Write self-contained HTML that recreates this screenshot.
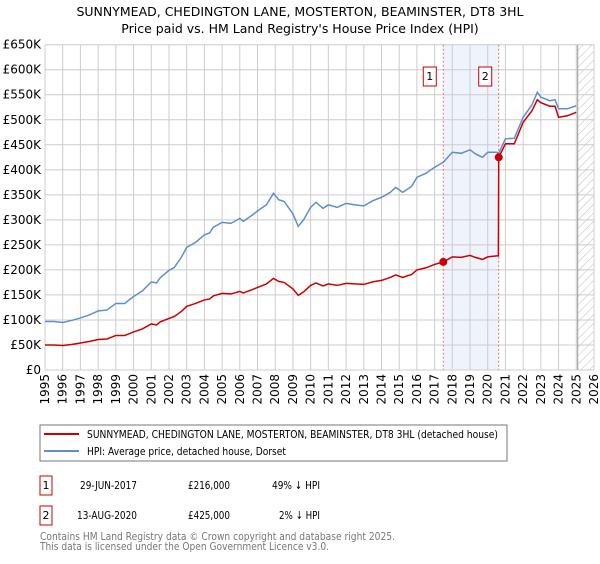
<!DOCTYPE html>
<html><head><meta charset="utf-8"><style>
body{margin:0;background:#fff;font-family:"DejaVu Sans","Liberation Sans",sans-serif;}
svg text{font-family:"DejaVu Sans","Liberation Sans",sans-serif;}
</style></head><body>
<svg id="chart" width="600" height="560" xmlns="http://www.w3.org/2000/svg">
<defs><pattern id="hatch" width="6" height="6" patternUnits="userSpaceOnUse" patternTransform="rotate(45)"><line x1="0" y1="0" x2="0" y2="6" stroke="#bbb" stroke-width="1"/></pattern></defs>
<text x="300" y="16" font-size="12.5" text-anchor="middle" fill="#000">SUNNYMEAD, CHEDINGTON LANE, MOSTERTON, BEAMINSTER, DT8 3HL</text>
<text x="300" y="33" font-size="12.5" text-anchor="middle" fill="#000">Price paid vs. HM Land Registry's House Price Index (HPI)</text>
<g id="grid"></g><g id="marks"></g><g id="axes"></g>
<rect x="40" y="425" width="467" height="36" fill="#fff" stroke="#777"/>
<line x1="44" y1="434" x2="79" y2="434" stroke="#cc0000" stroke-width="2"/>
<text x="87" y="438" font-size="11" textLength="411" lengthAdjust="spacingAndGlyphs">SUNNYMEAD, CHEDINGTON LANE, MOSTERTON, BEAMINSTER, DT8 3HL (detached house)</text>
<line x1="44" y1="451" x2="79" y2="451" stroke="#5b8fd0" stroke-width="2"/>
<text x="87" y="455" font-size="11" textLength="199" lengthAdjust="spacingAndGlyphs">HPI: Average price, detached house, Dorset</text>
<g font-size="11">
<rect x="40" y="476" width="12" height="19" fill="#fff" stroke="#cc0000"/><text x="46" y="489" text-anchor="middle">1</text>
<text x="80" y="489" textLength="57" lengthAdjust="spacingAndGlyphs">29-JUN-2017</text><text x="188" y="489" textLength="42" lengthAdjust="spacingAndGlyphs">£216,000</text><text x="272" y="489" textLength="48" lengthAdjust="spacingAndGlyphs">49% ↓ HPI</text></g>
<g font-size="11">
<rect x="40" y="506" width="12" height="19" fill="#fff" stroke="#cc0000"/><text x="46" y="519" text-anchor="middle">2</text>
<text x="77" y="519" textLength="60" lengthAdjust="spacingAndGlyphs">13-AUG-2020</text><text x="188" y="519" textLength="42" lengthAdjust="spacingAndGlyphs">£425,000</text><text x="279" y="519" textLength="41" lengthAdjust="spacingAndGlyphs">2% ↓ HPI</text></g>
<text x="40" y="540" font-size="11" fill="#777" textLength="355" lengthAdjust="spacingAndGlyphs">Contains HM Land Registry data © Crown copyright and database right 2025.</text>
<text x="40" y="550" font-size="11" fill="#777" textLength="289" lengthAdjust="spacingAndGlyphs">This data is licensed under the Open Government Licence v3.0.</text>
</svg>
<script>
const dates=[1995.0,1995.5,1996.0,1996.5,1997.0,1997.5,1998.0,1998.5,1999.0,1999.5,2000.0,2000.5,2001.0,2001.3,2001.5,2002.0,2002.3,2002.7,2003.0,2003.5,2004.0,2004.3,2004.5,2005.0,2005.5,2006.0,2006.2,2006.8,2007.0,2007.5,2007.9,2008.2,2008.5,2009.0,2009.3,2009.6,2010.0,2010.3,2010.7,2011.0,2011.5,2012.0,2012.5,2013.0,2013.5,2014.0,2014.5,2014.8,2015.2,2015.7,2016.0,2016.5,2017.0,2017.49,2018.0,2018.5,2019.0,2019.3,2019.7,2020.0,2020.5,2020.6,2020.62,2021.0,2021.5,2022.0,2022.5,2022.8,2023.0,2023.5,2023.8,2024.0,2024.5,2025.0];
const hpiValues=[97,97,95,99,104,110,118,120,133,133,147,158,176,174,184,199,205,225,245,255,270,274,285,295,293,303,297,312,318,330,353,340,337,312,287,300,325,335,323,330,325,333,330,328,338,345,355,365,355,367,385,393,405,415,435,433,440,432,425,435,435,433,433,462,463,505,530,555,545,538,540,522,522,528];
const priceValues=[50,50,49,51,54,57,61,62,69,69,76,82,92,90,96,103,107,117,127,133,140,142,148,153,152,157,154,162,165,172,183,177,175,162,149,156,169,174,168,172,169,173,172,171,176,179,185,190,185,191,200,204,211,216,226,225,229,225,221,226,228,228,425,452,452,495,518,540,534,527,527,505,508,515];
const saleDates=[2017.49,2020.62];
const saleValues=[216,425];
const saleLabels=["1","2"];
const yTicks=[0,50,100,150,200,250,300,350,400,450,500,550,600,650];
const yTickLabels=["£0","£50K","£100K","£150K","£200K","£250K","£300K","£350K","£400K","£450K","£500K","£550K","£600K","£650K"];
const xTicks=[1995,1996,1997,1998,1999,2000,2001,2002,2003,2004,2005,2006,2007,2008,2009,2010,2011,2012,2013,2014,2015,2016,2017,2018,2019,2020,2021,2022,2023,2024,2025,2026];
const dataEnd=2025.08;
const X0=45,X1=594,Y0=370,Y1=44.7;
const x=v=>X0+(v-1995)/(2026-1995)*(X1-X0);
const y=v=>Y0-v/650*(Y0-Y1);
const NS="http://www.w3.org/2000/svg";
function mk(tag,attrs,parent){const e=document.createElementNS(NS,tag);for(const k in attrs)e.setAttribute(k,attrs[k]);parent.appendChild(e);return e;}
const grid=document.getElementById('grid'),marks=document.getElementById('marks'),axes=document.getElementById('axes');
const band=mk('rect',{x:x(saleDates[0]),y:Y1,width:x(saleDates[1])-x(saleDates[0]),height:Y0-Y1,fill:'#eef3fc'},grid);


const hatch=mk('rect',{x:x(dataEnd),y:Y1,width:X1-x(dataEnd),height:Y0-Y1,fill:'url(#hatch)'},grid);


yTicks.forEach((t,i)=>{
 mk('line',{x1:X0,x2:X1,y1:y(t),y2:y(t),stroke:'#ccc','stroke-width':1},grid);
 const tx=mk('text',{x:41,y:y(t)+4,'font-size':12,'text-anchor':'end'},axes);
 tx.textContent=yTickLabels[i];
 
 
});
xTicks.forEach(t=>{
 mk('line',{x1:x(t),x2:x(t),y1:Y1,y2:Y0,stroke:'#ccc','stroke-width':1},grid);
 const tx=mk('text',{x:0,y:0,'font-size':12,'text-anchor':'end',transform:`translate(${x(t)+4},${Y0+4}) rotate(-90)`},axes);
 tx.textContent=t;
 
 
});
mk('line',{x1:x(dataEnd),x2:x(dataEnd),y1:Y1,y2:Y0,stroke:'#999','stroke-width':1},grid);
saleDates.forEach((d,i)=>{
 const l=mk('line',{x1:x(d),x2:x(d),y1:Y1,y2:Y0,stroke:'#f07070','stroke-width':1,'stroke-dasharray':'2,2'},grid);
 
 
});
const hp=mk('polyline',{points:dates.map((d,i)=>x(d)+','+y(hpiValues[i])).join(' '),fill:'none',stroke:'#5b8fd0','stroke-width':1.5},marks);


const pp=mk('polyline',{points:dates.map((d,i)=>x(d)+','+y(priceValues[i])).join(' '),fill:'none',stroke:'#cc0000','stroke-width':1.5},marks);


saleDates.forEach((d,i)=>{
 const c=mk('circle',{cx:x(d),cy:y(saleValues[i]),r:4,fill:'#cc0000'},marks);
 
 
 const g=mk('g',{},marks);
 
 
 mk('rect',{x:x(d)-20,y:67,width:13,height:19,fill:'#fff',stroke:'#cc0000'},g);
 const t=mk('text',{x:x(d)-13.5,y:80,'font-size':11,'text-anchor':'middle'},g);
 t.textContent=saleLabels[i];
});
</script>
</body></html>
